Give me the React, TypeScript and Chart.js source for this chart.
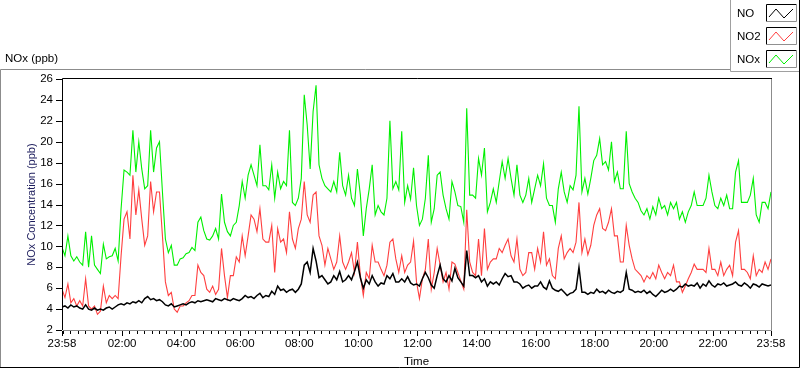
import React, { useEffect, useRef } from 'react';
import { Chart, registerables } from 'chart.js';

Chart.register(...registerables);

const FONT = "'Liberation Sans', Arial, sans-serif";

// minutes between samples (start 23:58, 24 h span)
const STEP_MIN = 6;
const SPAN_MIN = 1440;

const xTickMinutes = [0, 122, 242, 362, 482, 602, 722, 842, 962, 1082, 1202, 1322, 1440];
const xTickLabels = ['23:58', '02:00', '04:00', '06:00', '08:00', '10:00', '12:00', '14:00', '16:00', '18:00', '20:00', '22:00', '23:58'];
const yTicks = [2, 4, 6, 8, 10, 12, 14, 16, 18, 20, 22, 24, 26];

const seriesNames = ['NO', 'NO2', 'NOx'];
const seriesColors = ['#000000', '#ff3f3f', '#00f000'];
const seriesWidths = [1.5, 1.1, 1.1];

const no = [
  4.2, 4.3, 4.1, 4.4, 4.2, 4.3, 4.1, 4.0, 4.4, 4.0,
  3.9, 4.1, 3.9, 4.0, 3.9, 4.1, 4.2, 4.0, 4.2, 4.4,
  4.5, 4.4, 4.6, 4.5, 4.7, 4.6, 4.8, 4.6, 5.0, 5.2,
  4.9, 5.0, 4.8, 4.9, 4.7, 4.4, 4.3, 4.5, 4.2, 4.3,
  4.4, 4.5, 4.4, 4.6, 4.7, 4.6, 4.8, 4.7, 4.8, 4.9,
  4.8, 4.7, 5.0, 4.9, 4.8, 5.0, 4.9, 4.8, 5.0, 4.9,
  4.8, 5.0, 5.3, 5.1, 5.2, 5.0, 5.3, 5.5, 5.1, 5.3,
  5.2, 5.7, 5.4, 6.2, 5.8, 5.9, 5.6, 5.8, 5.9, 5.6,
  5.9, 6.4, 8.2, 8.5, 7.5, 9.8, 8.6, 7.0, 7.2, 6.8,
  6.4, 6.6, 7.2, 6.8, 7.6, 6.6, 6.8, 7.2, 6.8, 7.6,
  8.5, 7.0, 6.0, 6.8, 6.4, 7.2, 6.6, 6.2, 6.5, 6.4,
  7.2, 6.9, 7.4, 6.6, 6.6, 6.9, 6.6, 7.1, 6.5, 6.3,
  6.4, 6.2, 6.9, 7.5, 7.0, 6.3, 6.0, 7.2, 8.2, 6.9,
  6.6, 7.2, 6.7, 7.9, 7.0, 6.6, 6.2, 9.6, 7.2, 7.2,
  7.0, 7.2, 6.6, 6.9, 6.2, 6.6, 6.4, 6.6, 6.3, 6.9,
  7.4, 7.1, 7.2, 6.6, 6.6, 6.4, 6.0, 6.2, 6.3, 6.0,
  6.2, 6.2, 6.6, 6.1, 5.9, 6.7, 6.0, 5.8, 5.7, 5.9,
  5.6, 5.3, 5.5, 5.6, 5.9, 8.0, 5.6, 5.6, 5.4, 5.6,
  5.5, 5.9, 5.6, 5.7, 5.5, 5.8, 5.6, 5.5, 5.7, 5.6,
  5.8, 7.5, 5.9, 5.8, 5.6, 5.7, 5.6, 5.8, 5.5, 5.7,
  5.4, 5.2, 5.5, 5.8, 5.6, 5.7, 5.9, 5.7, 5.9, 6.2,
  6.1, 6.4, 6.2, 6.3, 6.2, 6.5, 6.0, 6.4, 6.2, 6.7,
  6.3, 6.1, 6.4, 6.3, 6.5, 6.2, 6.3, 6.4, 6.6, 6.3,
  6.2, 6.5, 6.3, 6.0, 6.4, 6.3, 6.1, 6.4, 6.3, 6.2, 6.3,
];

const no2 = [
  5.9, 5.1, 6.4, 4.6, 5.0, 4.3, 4.8, 4.3, 6.9, 4.3,
  4.0, 4.3, 3.5, 3.8, 6.2, 4.6, 5.3, 5.0, 5.3, 5.0,
  9.1, 12.6, 13.3, 10.7, 16.8, 13.0, 15.4, 12.6, 10.1, 11.0,
  16.2, 13.3, 15.2, 15.2, 11.0, 6.6, 5.3, 5.6, 4.0, 3.7,
  4.3, 4.3, 4.6, 4.8, 5.3, 5.3, 8.2, 7.5, 7.2, 5.9,
  5.6, 6.2, 5.4, 5.9, 9.8, 7.2, 5.1, 7.2, 7.2, 9.0,
  8.5, 11.0, 9.1, 11.0, 13.0, 12.6, 11.4, 13.6, 10.7, 10.4,
  10.4, 12.0, 7.5, 11.7, 10.4, 10.7, 9.4, 13.3, 10.7, 9.8,
  11.7, 12.6, 16.2, 13.0, 12.3, 14.9, 15.2, 11.0, 10.1, 8.2,
  9.8, 8.8, 7.8, 8.5, 11.0, 8.5, 7.8, 8.5, 9.4, 7.5,
  10.4, 7.2, 5.3, 7.5, 6.9, 10.1, 8.5, 8.5, 7.8, 7.2,
  8.2, 10.4, 10.7, 8.8, 7.5, 9.1, 7.5, 8.2, 8.5, 10.5,
  6.6, 5.0, 6.9, 7.8, 10.7, 5.9, 7.5, 9.8, 8.2, 6.6,
  7.5, 5.9, 8.5, 8.3, 7.5, 6.7, 5.9, 13.5, 8.5, 7.5,
  7.2, 10.7, 7.2, 11.7, 7.8, 8.5, 8.8, 8.8, 9.8, 9.4,
  10.1, 10.7, 9.1, 8.5, 10.7, 7.8, 7.2, 7.5, 9.4, 9.4,
  7.8, 9.8, 8.5, 11.4, 8.2, 8.8, 7.2, 6.9, 9.8, 11.0,
  8.8, 9.4, 9.8, 9.4, 10.4, 14.2, 9.4, 10.7, 9.2, 10.1,
  12.0, 13.0, 13.6, 11.7, 11.5, 12.3, 13.6, 11.0, 11.0, 8.5,
  8.5, 12.0, 10.1, 8.8, 7.8, 7.5, 7.2, 6.6, 7.2, 6.9,
  7.5, 6.9, 8.2, 7.5, 6.9, 7.5, 7.2, 8.2, 6.6, 6.6,
  5.6, 6.2, 6.9, 7.5, 8.3, 7.8, 7.8, 7.8, 7.5, 9.8,
  7.8, 7.8, 7.2, 8.5, 7.2, 7.8, 8.2, 7.2, 10.4, 11.5,
  7.8, 7.8, 7.5, 6.9, 9.1, 7.2, 7.8, 7.5, 8.5, 7.8, 8.8,
];

const nox = [
  9.9, 9.1, 11.0, 9.1, 8.6, 9.0, 8.5, 8.2, 11.4, 8.0,
  11.0, 8.2, 7.8, 7.4, 10.2, 8.8, 9.0, 9.1, 9.8, 8.6,
  13.6, 17.3, 17.1, 16.8, 21.1, 17.1, 20.0, 17.4, 15.5, 15.8,
  21.1, 17.1, 19.4, 20.0, 15.2, 10.7, 9.4, 10.1, 8.2, 8.2,
  8.8, 8.9, 9.3, 9.4, 9.9, 9.6, 12.3, 12.8, 11.5, 10.7,
  10.6, 11.0, 11.7, 10.7, 15.0, 12.3, 11.4, 11.0, 12.0, 12.3,
  13.9, 16.2, 14.6, 16.8, 17.8, 16.8, 15.8, 19.7, 15.8, 15.8,
  15.4, 17.8, 14.6, 17.1, 15.5, 16.2, 15.8, 21.1, 14.2, 13.9,
  14.6, 16.5, 24.5, 21.6, 17.4, 22.9, 25.4, 17.8, 16.5, 15.8,
  15.5, 15.2, 16.2, 15.2, 19.0, 15.8, 14.9, 16.8, 14.6, 13.9,
  17.4, 14.9, 11.0, 13.6, 15.5, 17.8, 13.0, 13.9, 13.3, 13.0,
  14.6, 22.0, 15.5, 16.2, 15.4, 21.0, 14.2, 15.8, 14.5, 17.5,
  13.9, 12.0, 12.6, 14.6, 18.7, 12.3, 13.6, 16.8, 17.1, 14.9,
  13.6, 12.6, 16.2, 15.2, 13.9, 13.8, 12.3, 23.2, 14.9, 14.9,
  14.6, 18.4, 16.8, 19.4, 13.3, 14.2, 15.5, 14.2, 16.2, 18.1,
  16.5, 18.4, 16.5, 14.9, 17.8, 14.9, 14.2, 14.9, 16.5, 14.2,
  15.5, 16.8, 15.8, 17.9, 14.6, 13.9, 13.9, 12.3, 15.5, 17.1,
  15.2, 14.2, 15.8, 15.4, 16.8, 23.4, 15.2, 16.5, 15.0, 16.5,
  18.2, 18.7, 20.3, 17.8, 18.1, 17.3, 20.0, 16.2, 17.1, 15.5,
  15.5, 21.0, 16.0, 15.2, 14.6, 14.2, 13.4, 13.0, 13.6, 12.6,
  13.8, 13.0, 14.6, 13.6, 13.9, 13.0, 14.2, 13.6, 14.2, 12.6,
  13.3, 12.3, 13.3, 13.9, 15.2, 13.9, 13.9, 13.9, 14.6, 16.8,
  15.2, 13.9, 13.6, 14.6, 13.9, 14.9, 13.6, 13.6, 17.1, 18.2,
  14.2, 14.2, 14.2, 14.9, 16.5, 13.0, 12.3, 14.2, 14.2, 13.6, 15.2,
];

const seriesValues = [no, no2, nox];

const toPoints = (vals: number[]) => vals.map((v, i) => ({ x: i * STEP_MIN, y: v }));

// legend swatch boxes (decoration)
const swatchTops = [4, 27, 50];

const decorPlugin = {
  id: 'decor',
  beforeDraw(chart: any) {
    const ctx = chart.ctx as CanvasRenderingContext2D;
    ctx.save();
    ctx.fillStyle = '#ffffff';
    ctx.fillRect(0, 0, chart.width, chart.height);
    ctx.restore();
  },
  afterDraw(chart: any) {
    const ctx = chart.ctx as CanvasRenderingContext2D;
    const { left, right, top, bottom } = chart.chartArea;
    const xs = chart.scales.x;
    const ys = chart.scales.y;
    ctx.save();
    ctx.lineWidth = 1;

    // outer frame
    ctx.strokeStyle = '#8c8c8c';
    ctx.beginPath();
    ctx.moveTo(0.5, 367.5);
    ctx.lineTo(0.5, 69.5);
    ctx.lineTo(730, 69.5);
    ctx.stroke();
    ctx.strokeStyle = '#000000';
    ctx.beginPath();
    ctx.moveTo(0, 367.5);
    ctx.lineTo(799.5, 367.5);
    ctx.lineTo(799.5, 0);
    ctx.stroke();

    // legend box
    ctx.strokeStyle = '#a0a0a0';
    ctx.beginPath();
    ctx.moveTo(730.5, 0);
    ctx.lineTo(730.5, 71.5);
    ctx.lineTo(799, 71.5);
    ctx.stroke();

    // legend swatches
    swatchTops.forEach((t, k) => {
      const x0 = 766;
      ctx.fillStyle = '#ffffff';
      ctx.fillRect(x0, t, 30, 17);
      ctx.strokeStyle = '#000000';
      ctx.beginPath();
      ctx.moveTo(x0 + 0.5, t + 17.5);
      ctx.lineTo(x0 + 0.5, t + 0.5);
      ctx.lineTo(x0 + 30.5, t + 0.5);
      ctx.stroke();
      ctx.strokeStyle = '#909090';
      ctx.beginPath();
      ctx.moveTo(x0 + 30.5, t + 0.5);
      ctx.lineTo(x0 + 30.5, t + 17.5);
      ctx.lineTo(x0 + 0.5, t + 17.5);
      ctx.stroke();
      ctx.strokeStyle = seriesColors[k];
      ctx.beginPath();
      ctx.moveTo(x0 + 3, t + 13);
      ctx.lineTo(x0 + 10, t + 5);
      ctx.lineTo(x0 + 18, t + 14);
      ctx.lineTo(x0 + 27, t + 5);
      ctx.stroke();
    });

    // plot frame
    ctx.strokeStyle = '#000000';
    ctx.beginPath();
    ctx.moveTo(Math.round(left) + 0.5, Math.round(bottom));
    ctx.lineTo(Math.round(left) + 0.5, Math.round(top) - 0.5);
    ctx.lineTo(Math.round(right) + 1, Math.round(top) - 0.5);
    ctx.stroke();
    ctx.strokeStyle = '#8c8c8c';
    ctx.beginPath();
    ctx.moveTo(Math.round(right) + 0.5, Math.round(top));
    ctx.lineTo(Math.round(right) + 0.5, Math.round(bottom) + 0.5);
    ctx.lineTo(Math.round(left) + 1, Math.round(bottom) + 0.5);
    ctx.stroke();

    // y tick marks
    ctx.strokeStyle = '#000000';
    yTicks.forEach((v) => {
      const y = Math.round(ys.getPixelForValue(v)) + 0.5;
      ctx.beginPath();
      ctx.moveTo(Math.round(left) - 6, y);
      ctx.lineTo(Math.round(left), y);
      ctx.stroke();
    });

    // x tick marks: minor every 15 min from 00:00, major at labels
    for (let m = 2; m < SPAN_MIN; m += 15) {
      const x = Math.round(xs.getPixelForValue(m)) + 0.5;
      ctx.beginPath();
      ctx.moveTo(x, Math.round(bottom) + 1);
      ctx.lineTo(x, Math.round(bottom) + 4);
      ctx.stroke();
    }
    xTickMinutes.forEach((m) => {
      const x = Math.min(Math.round(xs.getPixelForValue(m)), Math.round(right)) + 0.5;
      ctx.beginPath();
      ctx.moveTo(x, Math.round(bottom) + 1);
      ctx.lineTo(x, Math.round(bottom) + 6);
      ctx.stroke();
    });
    ctx.restore();
  },
};

export default function App() {
  const canvasRef = useRef<HTMLCanvasElement | null>(null);

  useEffect(() => {
    document.body.style.margin = '0';
    const canvas = canvasRef.current;
    if (!canvas) return;
    const chart = new Chart(canvas, {
      type: 'line',
      data: {
        datasets: seriesNames.map((name, k) => ({
          label: name,
          data: toPoints(seriesValues[k]),
          borderColor: seriesColors[k],
          backgroundColor: seriesColors[k],
          borderWidth: seriesWidths[k],
          pointRadius: 0,
          tension: 0,
          fill: false,
        })),
      },
      options: {
        animation: false,
        responsive: false,
        maintainAspectRatio: false,
        devicePixelRatio: 1,
        layout: { padding: { left: 0, top: 79, right: 29, bottom: 0 } },
        plugins: {
          legend: { display: false },
          tooltip: { enabled: false },
          title: { display: false },
        },
        scales: {
          x: {
            type: 'linear',
            min: 0,
            max: SPAN_MIN,
            afterBuildTicks: (s: any) => {
              s.ticks = xTickMinutes.map((v) => ({ value: v }));
            },
            afterFit: (s: any) => {
              s.height = 39;
            },
            ticks: {
              autoSkip: false,
              maxRotation: 0,
              minRotation: 0,
              padding: 7,
              color: '#000000',
              font: { family: FONT, size: 11.5 },
              callback: (_v: any, idx: number) => xTickLabels[idx],
            },
            grid: { display: false, drawTicks: false },
            border: { display: false },
            title: {
              display: true,
              text: 'Time',
              color: '#000000',
              font: { family: FONT, size: 11.5 },
              padding: { top: 0, bottom: 0 },
            },
          },
          y: {
            type: 'linear',
            min: 2,
            max: 26,
            afterBuildTicks: (s: any) => {
              s.ticks = yTicks.map((v) => ({ value: v }));
            },
            afterFit: (s: any) => {
              s.width = 62;
            },
            ticks: {
              padding: 9,
              color: '#000000',
              font: { family: FONT, size: 11.5 },
            },
            grid: { display: false, drawTicks: false },
            border: { display: false },
            title: {
              display: true,
              text: 'NOx Concentration (ppb)',
              color: '#1c1c5c',
              font: { family: FONT, size: 11 },
              padding: { top: 25, bottom: 0 },
            },
          },
        },
      },
      plugins: [decorPlugin],
    });
    return () => chart.destroy();
  }, []);

  const textStyle: React.CSSProperties = {
    position: 'absolute',
    fontFamily: FONT,
    fontSize: 11.5,
    lineHeight: '16px',
    color: '#000000',
    whiteSpace: 'nowrap',
  };

  return (
    <div style={{ position: 'fixed', left: 0, top: 0, width: 800, height: 369, background: '#ffffff', overflow: 'hidden' }}>
      <canvas ref={canvasRef} width={800} height={369} style={{ position: 'absolute', left: 0, top: 0, width: 800, height: 369 }} />
      <div style={{ ...textStyle, left: 5, top: 50 }}>NOx (ppb)</div>
      {seriesNames.map((name, k) => (
        <div key={name} style={{ ...textStyle, left: 737, top: swatchTops[k] + 1 }}>{name}</div>
      ))}
    </div>
  );
}
